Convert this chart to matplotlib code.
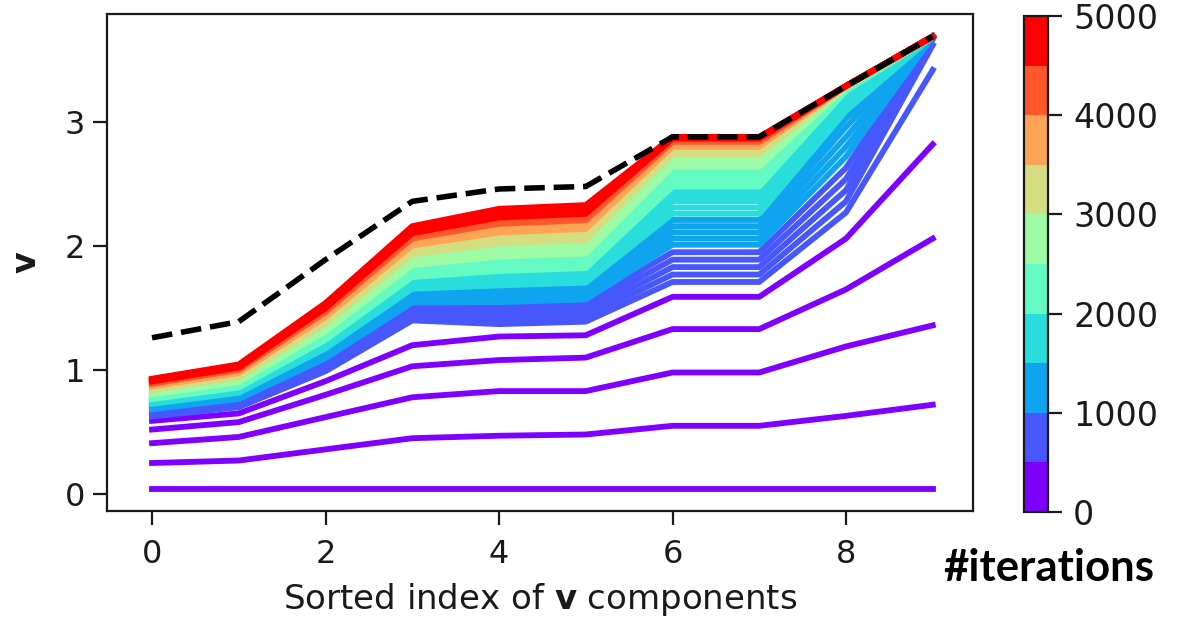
import numpy as np
import matplotlib
matplotlib.use("Agg")
import matplotlib.pyplot as plt
from matplotlib.colors import Normalize
from matplotlib.cm import ScalarMappable

plt.rcParams['font.family'] = ['DejaVu Sans']
plt.rcParams['mathtext.fontset'] = 'dejavusans'

# snapshot iterations (one line every 100 iterations)
iterations = np.arange(0, 5001, 100)
component_index = np.arange(10)

# v value of each sorted component at every snapshot
comp0 = [0.04, 0.25, 0.41, 0.52, 0.59,
         0.625, 0.637, 0.649, 0.662, 0.674,
         0.683, 0.692, 0.701, 0.710, 0.720,
         0.727, 0.735, 0.742, 0.750, 0.758,
         0.765, 0.773, 0.781, 0.788, 0.796,
         0.803, 0.811, 0.819, 0.826, 0.832,
         0.839, 0.845, 0.851, 0.857, 0.863,
         0.867, 0.872, 0.877, 0.881, 0.886,
         0.890, 0.893, 0.896, 0.900, 0.903,
         0.907, 0.912, 0.916, 0.921, 0.925,
         0.930]
comp1 = [0.04, 0.27, 0.46, 0.58, 0.65,
         0.700, 0.714, 0.728, 0.741, 0.755,
         0.766, 0.776, 0.786, 0.797, 0.807,
         0.816, 0.824, 0.833, 0.841, 0.850,
         0.859, 0.867, 0.876, 0.885, 0.893,
         0.902, 0.910, 0.919, 0.928, 0.935,
         0.942, 0.948, 0.955, 0.962, 0.969,
         0.974, 0.979, 0.985, 0.990, 0.995,
         1.000, 1.004, 1.007, 1.011, 1.014,
         1.019, 1.024, 1.029, 1.035, 1.040,
         1.045]
comp2 = [0.04, 0.36, 0.62, 0.80, 0.91,
         0.990, 1.012, 1.034, 1.056, 1.078,
         1.095, 1.111, 1.128, 1.144, 1.161,
         1.174, 1.188, 1.202, 1.216, 1.229,
         1.243, 1.257, 1.271, 1.284, 1.298,
         1.312, 1.326, 1.339, 1.353, 1.364,
         1.375, 1.386, 1.397, 1.408, 1.419,
         1.427, 1.436, 1.444, 1.452, 1.460,
         1.469, 1.474, 1.480, 1.485, 1.491,
         1.499, 1.507, 1.515, 1.524, 1.532,
         1.540]
comp3 = [0.04, 0.45, 0.78, 1.03, 1.20,
         1.400, 1.430, 1.461, 1.491, 1.522,
         1.544, 1.567, 1.590, 1.613, 1.636,
         1.655, 1.674, 1.693, 1.712, 1.731,
         1.750, 1.769, 1.788, 1.807, 1.826,
         1.845, 1.864, 1.883, 1.902, 1.917,
         1.932, 1.947, 1.962, 1.978, 1.993,
         2.004, 2.016, 2.027, 2.038, 2.050,
         2.061, 2.069, 2.076, 2.084, 2.092,
         2.103, 2.114, 2.126, 2.137, 2.149,
         2.160]
comp4 = [0.04, 0.47, 0.83, 1.08, 1.27,
         1.370, 1.407, 1.444, 1.482, 1.519,
         1.547, 1.575, 1.603, 1.630, 1.658,
         1.682, 1.705, 1.728, 1.751, 1.775,
         1.798, 1.821, 1.844, 1.868, 1.891,
         1.914, 1.937, 1.961, 1.984, 2.002,
         2.021, 2.040, 2.058, 2.077, 2.095,
         2.109, 2.123, 2.137, 2.151, 2.165,
         2.179, 2.188, 2.198, 2.207, 2.216,
         2.230, 2.244, 2.258, 2.272, 2.286,
         2.300]
comp5 = [0.04, 0.48, 0.83, 1.10, 1.28,
         1.390, 1.428, 1.465, 1.503, 1.540,
         1.569, 1.597, 1.625, 1.653, 1.681,
         1.705, 1.728, 1.752, 1.775, 1.799,
         1.822, 1.846, 1.869, 1.893, 1.916,
         1.940, 1.963, 1.987, 2.010, 2.029,
         2.048, 2.067, 2.086, 2.104, 2.123,
         2.137, 2.151, 2.166, 2.180, 2.194,
         2.208, 2.217, 2.227, 2.236, 2.245,
         2.260, 2.274, 2.288, 2.302, 2.316,
         2.330]
comp6 = [0.04, 0.55, 0.98, 1.33, 1.59,
         1.71, 1.77, 1.83, 1.89, 1.95,
         2.01, 2.06, 2.11, 2.16, 2.21,
         2.26, 2.31, 2.36, 2.40, 2.44,
         2.48, 2.52, 2.555, 2.585, 2.615,
         2.64, 2.665, 2.685, 2.705, 2.725,
         2.74, 2.755, 2.768, 2.78, 2.79,
         2.80, 2.81, 2.818, 2.826, 2.833,
         2.84, 2.846, 2.852, 2.857, 2.862,
         2.866, 2.87, 2.873, 2.876, 2.878,
         2.88]
comp7 = [0.04, 0.55, 0.98, 1.33, 1.59,
         1.71, 1.77, 1.83, 1.89, 1.95,
         2.01, 2.06, 2.11, 2.16, 2.21,
         2.26, 2.31, 2.36, 2.40, 2.44,
         2.48, 2.52, 2.555, 2.585, 2.615,
         2.64, 2.665, 2.685, 2.705, 2.725,
         2.74, 2.755, 2.768, 2.78, 2.79,
         2.80, 2.81, 2.818, 2.826, 2.833,
         2.84, 2.846, 2.852, 2.857, 2.862,
         2.866, 2.87, 2.873, 2.876, 2.878,
         2.88]
comp8 = [0.04, 0.63, 1.19, 1.65, 2.06,
         2.27, 2.36, 2.45, 2.54, 2.63,
         2.72, 2.80, 2.88, 2.96, 3.03,
         3.09, 3.14, 3.18, 3.21, 3.235,
         3.25, 3.26, 3.268, 3.274, 3.279,
         3.282, 3.284, 3.286, 3.287, 3.288,
         3.289, 3.29, 3.29, 3.29, 3.29,
         3.29, 3.29, 3.29, 3.29, 3.29,
         3.29, 3.29, 3.29, 3.29, 3.29,
         3.29, 3.29, 3.29, 3.29, 3.29,
         3.29]
comp9 = [0.04, 0.72, 1.36, 2.06, 2.82,
         3.42, 3.62, 3.665, 3.68, 3.685,
         3.688, 3.69, 3.69, 3.69, 3.69,
         3.69, 3.69, 3.69, 3.69, 3.69,
         3.69, 3.69, 3.69, 3.69, 3.69,
         3.69, 3.69, 3.69, 3.69, 3.69,
         3.69, 3.69, 3.69, 3.69, 3.69,
         3.69, 3.69, 3.69, 3.69, 3.69,
         3.69, 3.69, 3.69, 3.69, 3.69,
         3.69, 3.69, 3.69, 3.69, 3.69,
         3.69]

# ground-truth v (black dashed)
target = [1.26, 1.39, 1.89, 2.36, 2.46, 2.48, 2.88, 2.88, 3.29, 3.69]

colorbar_ticks = [0, 1000, 2000, 3000, 4000, 5000]
x_ticks = [0, 2, 4, 6, 8]
y_ticks = [0, 1, 2, 3]

history = np.array([comp0, comp1, comp2, comp3, comp4,
                    comp5, comp6, comp7, comp8, comp9]).T

cmap = plt.get_cmap('rainbow', 10)
norm = Normalize(vmin=0, vmax=5000)
ink = '#1a1a1a'

fig = plt.figure(figsize=(11.81, 6.17), dpi=100)
ax = fig.add_axes([107 / 1181, 1 - 511 / 617, 866 / 1181, 497 / 617])

for it, row in zip(iterations, history):
    ax.plot(component_index, row, color=cmap(norm(it)), lw=4.2)

ax.plot(component_index, target, color='black', lw=4.0, ls='--')

ax.set_xlim(-0.519, 9.464)
ax.set_ylim(-0.137, 3.871)
ax.set_xticks(x_ticks)
ax.set_yticks(y_ticks)
ax.tick_params(axis='both', labelsize=23, length=10, width=1.6, colors=ink)
ax.tick_params(axis='x', pad=10)
ax.tick_params(axis='y', pad=6)
for sp in ax.spines.values():
    sp.set_linewidth(1.6)
    sp.set_color(ink)
ax.set_xlabel(r'Sorted index of $\mathbf{v}$ components', fontsize=24.5,
              color=ink, labelpad=8)
ax.set_ylabel('v', fontsize=24, fontweight='bold', color=ink, labelpad=16)

cax = fig.add_axes([1024 / 1181, 1 - 512 / 617, 24 / 1181, 496 / 617])
sm = ScalarMappable(norm=norm, cmap=cmap)
cb = fig.colorbar(sm, cax=cax, ticks=colorbar_ticks)
cb.ax.tick_params(labelsize=24, length=10, width=1.6, colors=ink, pad=8)
cb.outline.set_linewidth(1.6)
cb.outline.set_edgecolor(ink)

fig.text(1049 / 1181, 1 - 568 / 617, '#iterations', fontsize=31.5,
         fontweight='bold', family=['Lato', 'DejaVu Sans'],
         ha='center', va='center')

fig.savefig('out.png', dpi=100)
